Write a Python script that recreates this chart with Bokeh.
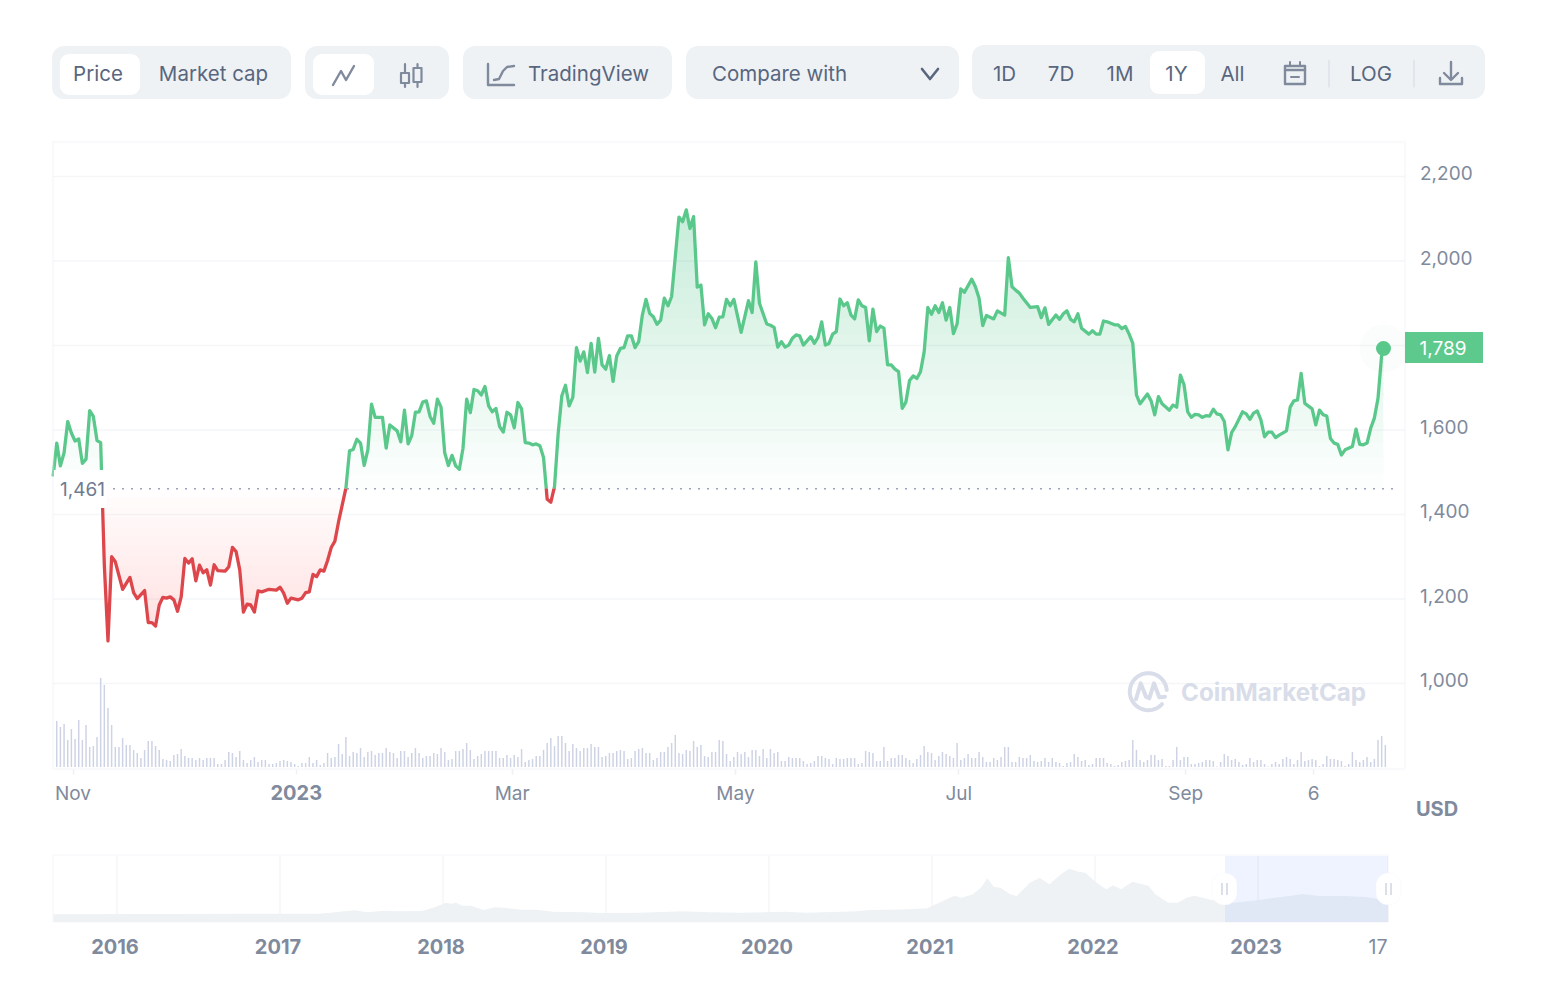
import numpy as np
from bokeh.embed import file_html
from bokeh.models import BoxAnnotation, FixedTicker, Label, LinearAxis, NumeralTickFormatter, Range1d
from bokeh.plotting import figure
from bokeh.resources import INLINE

# ---------- data ----------
price_day = [0,1,2,3,4,5,6,7,8,9,10,11,12,13,14,15,16,17,19,21,22,23,25,26,27,28,29,30,31,32,33,34,35,36,37,38,39,40,41,42,43,44,45,47,48,49,50,51,52,53,54,55,56,57,59,61,62,63,64,65,67,68,69,70,71,72,73,74,75,76,77,78,80,
81,82,83,84,85,86,87,88,90,91,92,94,95,96,97,98,99,100,101,102,103,104,105,106,107,108,109,110,111,112,113,114,115,116,117,118,119,120,121,122,123,124,125,126,127,128,129,130,131,132,133,134,135,136,137,138,139,140,141,142,143,144,145,146,147,148,149,150,151,152,153,154,155,156,157,158,159,160,161,162,163,164,165,166,167,168,169,170,171,172,173,174,175,176,177,178,179,180,181,182,183,184,185,186,188,190,191,192,193,194,195,196,197,198,199,200,201,202,203,204,205,207,208,209,210,211,212,213,214,215,216,217,218,219,220,221,222,223,224,225,226,227,228,229,230,231,232,233,234,235,236,237,238,239,240,241,242,243,244,245,246,247,248,249,251,252,253,254,255,257,258,260,261,262,263,264,265,267,269,270,271,272,274,275,276,277,278,279,280,281,283,284,285,286,287,288,290,291,292,293,294,295,296,297,299,300,301,302,303,305,306,307,308,309,310,311,312,313,314,315,316,317,318,319,320,321,322,323,325,326,327,328,329,330,331,332,333,334,335,337,338,339,340,341,342,344,345,346,347,348,349,350,351,352,353,355,356,357,358,359,360,361,362,363,363.5]
price = [1490,1569,1515,1546,1620,1593,1574,1579,1521,1531,1646,1632,1575,1570,1280,1101,1300,1288,1223,1251,1215,1201,1220,1144,1144,1136,1186,1204,1202,1205,1198,1171,1205,1296,1285,1295,1243,1280,1262,1269,1233,1281,1267,1266,1276,1322,1312,1269,1169,1188,1186,1169,1219,1217,1223,1221,1228,1214,1190,1202,1198,1202,1215,1217,1258,1253,1269,1266,1291,1322,1337,1383,1462,
1551,1554,1578,1569,1516,1553,1661,1630,1630,1557,1612,1598,1572,1647,1567,1587,1642,1643,1666,1669,1632,1616,1673,1654,1546,1516,1540,1515,1507,1557,1673,1641,1696,1693,1683,1703,1657,1643,1651,1608,1595,1642,1636,1605,1665,1650,1570,1569,1565,1567,1563,1535,1436,1429,1466,1592,1681,1706,1657,1677,1795,1763,1785,1736,1805,1737,1817,1754,1744,1776,1715,1775,1793,1795,1823,1823,1795,1809,1872,1909,1876,1868,1850,1860,1912,1894,1916,2010,2104,2093,2121,2077,2105,1938,1943,1849,1875,1864,1842,1867,1868,1909,1894,1909,1831,1906,1878,1998,1900,1875,1851,1848,1843,1796,1809,1796,1801,1817,1825,1823,1801,1821,1805,1819,1856,1801,1805,1827,1833,1910,1894,1901,1872,1863,1908,1894,1890,1811,1886,1833,1846,1841,1754,1754,1744,1738,1651,1666,1717,1728,1722,1738,1785,1890,1874,1894,1878,1901,1860,1890,1828,1851,1934,1926,1957,1939,1912,1847,1871,1863,1882,1872,2008,1939,1931,1924,1912,1890,1892,1866,1889,1850,1872,1862,1875,1882,1862,1856,1875,1841,1827,1835,1827,1827,1858,1856,1849,1849,1840,1845,1827,1805,1683,1662,1685,1669,1636,1679,1662,1647,1659,1654,1730,1707,1643,1630,1637,1636,1630,1634,1633,1649,1638,1636,1620,1553,1594,1608,1643,1638,1625,1640,1645,1624,1584,1595,1595,1582,1588,1598,1654,1669,1671,1734,1663,1650,1612,1647,1636,1633,1580,1569,1566,1541,1553,1561,1602,1566,1565,1569,1604,1628,1675,1778,1793]
volume = [46,40,43,27,38,28,47,27,42,20,21,30,89,82,59,42,20,20,29,22,22,17,14,9,17,26,26,21,17,8,7,6,12,13,18,11,9,9,7,9,7,9,9,9,3,3,7,15,14,10,16,7,4,7,10,5,7,7,3,3,4,6,7,6,5,3,1,4,4,10,4,7,2,4,14,9,10,23,13,30,11,15,14,19,10,15,16,12,14,14,19,15,14,9,16,16,10,14,19,14,9,11,11,14,13,19,15,7,8,16,16,18,24,17,8,11,13,16,16,16,16,9,9,12,9,12,10,18,5,7,
8,11,11,17,24,29,21,31,31,24,16,23,19,16,19,19,23,20,20,10,11,14,14,16,17,16,8,9,16,18,19,14,14,7,9,15,15,20,24,32,14,13,17,16,26,20,22,11,10,15,15,27,26,13,6,10,15,13,15,10,17,17,11,18,9,18,14,15,6,6,10,9,9,9,6,3,4,6,11,11,9,8,3,9,8,8,9,9,9,3,4,16,15,14,6,6,20,6,9,9,12,12,9,7,4,8,12,21,15,14,7,11,15,13,11,9,24,7,9,13,
9,9,15,10,5,5,9,7,10,20,20,5,5,10,9,9,12,6,5,6,9,5,9,5,4,1,4,5,13,10,6,7,2,3,9,9,9,4,3,1,2,5,6,7,27,17,7,5,7,12,12,7,8,1,1,7,20,7,10,10,3,3,4,5,7,7,6,0.5,5,13,11,7,8,5,2,3,9,5,7,7,3,0.5,3,5,3,8,10,8,3,7,15,6,7,8,7,1,3,11,8,8,7,6,1,3,15,7,5,7,10,5,8,27,31,22]
y_ticks = [1000, 1200, 1400, 1600, 2000, 2200]
grid_ticks = [1000, 1200, 1400, 1600, 1800, 2000, 2200]
x_ticks = [0, 120, 181, 242, 304, 339]
x_tick_labels = ["Nov", "Mar", "May", "Jul", "Sep", "6"]
year_tick = 61
base_price = 1461

nav_year = [2015.61,2017.23,2017.31,2017.39,2017.46,2017.53,2017.64,2017.72,2017.87,2017.94,2017.98,2018.02,2018.05,2018.08,2018.12,2018.17,2018.25,2018.32,2018.37,2018.48,2018.57,2018.68,2018.87,2018.98,2019.20,2019.47,2019.64,2019.82,2020.10,2020.23,2020.53,2020.62,2020.86,2020.97,2021.03,2021.11,2021.14,2021.18,2021.25,2021.30,2021.34,2021.38,2021.42,2021.48,2021.52,2021.60,2021.66,2021.72,2021.79,2021.84,2021.90,2021.94,2022.01,2022.07,2022.11,2022.16,2022.23,2022.33,2022.37,2022.45,2022.51,2022.56,2022.61,2022.70,2022.79,2022.86,2023.00,2023.11,2023.27,2023.38,2023.52,2023.66,2023.74,2023.80]
nav_level = [7.7,8.3,9.3,10.7,11.7,9.7,11.3,10.7,11,14.3,16.7,19.3,18.3,19.3,16.3,16.3,12,14.7,14.3,12.3,12.3,10.3,9.7,9,9.3,10.7,9.7,9.3,10.3,9.3,10.7,12,12.7,13.7,18.3,24.3,26.3,24.3,27.7,34.3,43.7,35,34.3,27.7,26,39.3,44.3,37.7,47.7,53.3,50.3,49.3,39.3,32.7,36.7,32.7,40.3,36,27.7,19.3,19.3,24.3,26.3,22.7,19.3,19.3,21.7,24.3,27.7,26,26,25,22.7,22.7]
nav_years = [2016, 2017, 2018, 2019, 2020, 2021, 2022, 2023]

# ---------- style ----------
FONT = "Inter"
GREEN = "#5ac88b"
FILL_GREEN = "#46c878"
RED = "#dd474c"
GREY_TXT = "#808a9d"
DARK_TXT = "#58667e"
PILL = "#eff2f5"
BORDER = "#eef0f4"
GRID = "#f5f6f8"

W, H = 1528, 980
OX, OY = 0.5, 0.5   # page position of the canvas

# scale constants: chart pixels per day / per USD / per navigator year
S = 3.66
FIRST_DAY = -5.44   # first price day, counted from 1 Nov
K = 0.4225
NS = 163.0


def day_at(px):
    return (px - 73) / S


def price_at(py):
    return 1000 + (683.5 - py) / K


def year_at(px):
    return 2016 + (px - 117) / NS


p = figure(width=W, height=H, x_range=Range1d(OX, OX + W), y_range=Range1d(OY + H, OY),
           toolbar_location=None, output_backend="svg", x_axis_type=None, y_axis_type=None,
           min_border=0, tools="", outline_line_color=None)
p.grid.visible = False
p.extra_x_ranges = {
    "days": Range1d(day_at(OX), day_at(OX + W)),
    "navyear": Range1d(year_at(OX), year_at(OX + W)),
    "navlab": Range1d(year_at(OX) + 2 / NS, year_at(OX + W) + 2 / NS),
}
p.extra_y_ranges = {
    "price": Range1d(price_at(OY + H), price_at(OY)),
    "pricelab": Range1d(price_at(OY + H) - 3.5 / K, price_at(OY) - 3.5 / K),
    "vol": Range1d(767 - (OY + H), 767 - OY),
    "navlevel": Range1d(922 - (OY + H), 922 - OY),
}


def txt(x, y, text, size=20, color=DARK_TXT, weight="normal", align="center"):
    p.add_layout(Label(x=x, y=y - 0.5, text=text, text_font=FONT, text_font_size=f"{size}px", text_color=color,
                       text_font_style=weight, text_align=align, text_baseline="middle"))


def box(l, r, t, b, color, radius=0, alpha=1.0, line=None, lw=1):
    p.add_layout(BoxAnnotation(left=l, right=r, top=t, bottom=b, fill_color=color, fill_alpha=alpha,
                               line_color=line, line_width=lw, border_radius=radius))


# ---------- toolbar ----------
for l, r, t, b in [(52, 291, 46, 99), (305, 449, 46, 99), (463, 672, 46, 99), (686, 959, 46, 99), (972, 1485, 45, 99)]:
    box(l, r, t, b, PILL, radius=12)
box(60, 140, 54, 95, "#ffffff", radius=9)
box(313, 374, 54, 95, "#ffffff", radius=9)
box(1150, 1205, 51, 94, "#ffffff", radius=9)
for x, s in [(98, "Price"), (213.5, "Market cap"), (588.5, "TradingView"), (779.5, "Compare with"),
             (1004.5, "1D"), (1061, "7D"), (1120, "1M"), (1176.5, "1Y"), (1232.5, "All"), (1371, "LOG")]:
    txt(x, 74, s, size=20.5)


def icon(xs, ys, w=2.4, color=GREY_TXT):
    p.line(xs, ys, line_width=w, line_color=color, level="overlay", line_cap="round", line_join="round")


icon([333, 341, 346, 354], [85, 71, 80, 66])
for cx, top, bot in [(405, 73, 83), (417.5, 68, 82)]:
    icon([cx, cx], [64, top], 2.2)
    icon([cx, cx], [bot, 87], 2.2)
    icon([cx - 4, cx + 4, cx + 4, cx - 4, cx - 4], [top, top, bot, bot, top], 2.2)
icon([488, 488, 514], [64, 85, 85])
icon([494, 499, 503, 507, 514], [80, 79, 71, 67, 66])
icon([922, 930, 938], [69, 79, 69], 2.6, DARK_TXT)
icon([1285, 1305, 1305, 1285, 1285], [66, 66, 84, 84, 66])
icon([1285, 1305], [70, 70])
icon([1290, 1290], [62, 66], 2)
icon([1300, 1300], [62, 66], 2)
icon([1291, 1299], [77, 77], 2)
icon([1451, 1451], [62, 79])
icon([1444, 1451, 1458], [73, 80, 73])
icon([1440, 1440, 1462, 1462], [78, 84, 84, 78])
icon([1329, 1329], [60, 87], 1.2, "#d8dce6")
icon([1414, 1414], [60, 87], 1.2, "#d8dce6")

# ---------- main chart ----------
MAIN_L, MAIN_R, MAIN_T, MAIN_B = 53, 1405, 142, 769
PRICE = dict(y_range_name="price")
DAYS = dict(x_range_name="days")

p.segment(x0=[MAIN_L] * len(grid_ticks), x1=[MAIN_R] * len(grid_ticks), y0=grid_ticks, y1=grid_ticks,
          line_color=GRID, line_width=1.5, **PRICE)

yaxis = LinearAxis(y_range_name="pricelab", fixed_location=MAIN_R, ticker=FixedTicker(ticks=y_ticks),
                   axis_line_color=None, major_tick_line_color=None, minor_tick_line_color=None,
                   major_tick_out=0, major_tick_in=0, major_label_standoff=15, major_label_text_font=FONT,
                   major_label_text_font_size="19px", major_label_text_color=GREY_TXT,
                   formatter=NumeralTickFormatter(format="0,0"))
p.add_layout(yaxis, "right")
xaxis = LinearAxis(x_range_name="days", fixed_location=MAIN_B, ticker=FixedTicker(ticks=x_ticks),
                   major_label_overrides=dict(zip(x_ticks, x_tick_labels)), axis_line_color=None,
                   major_tick_line_color=BORDER, major_tick_line_width=1.5, minor_tick_line_color=None,
                   major_tick_out=5, major_tick_in=0, major_label_standoff=8, major_label_text_font=FONT,
                   major_label_text_font_size="19px", major_label_text_color=GREY_TXT)
p.add_layout(xaxis, "below")
# the bold year tick on the same time scale
xaxis2 = LinearAxis(x_range_name="days", fixed_location=MAIN_B, ticker=FixedTicker(ticks=[year_tick]),
                    major_label_overrides={year_tick: "2023"}, axis_line_color=None,
                    major_tick_line_color=BORDER, major_tick_line_width=1.5, minor_tick_line_color=None,
                    major_tick_out=5, major_tick_in=0, major_label_standoff=11, major_label_text_font=FONT,
                    major_label_text_font_size="20px", major_label_text_font_style="bold",
                    major_label_text_color=GREY_TXT)
p.add_layout(xaxis2, "below")

days = np.array(price_day, dtype=float) + FIRST_DAY
vals = np.array(price, dtype=float)

# area under the line, built up in layers so that it deepens away from the base price
fill_x = np.linspace(days[0], days[-1], 4000)
fill_y = np.interp(fill_x, days, vals)
for lvl in np.linspace(base_price, 2120, 19)[:-1]:
    p.varea(fill_x, y1=np.full_like(fill_x, lvl), y2=np.maximum(fill_y, lvl), fill_color=FILL_GREEN, fill_alpha=0.016,
            **DAYS, **PRICE)
for lvl in np.linspace(base_price, 1120, 16)[:-1]:
    p.varea(fill_x, y1=np.full_like(fill_x, lvl), y2=np.minimum(fill_y, lvl), fill_color=RED, fill_alpha=0.01,
            **DAYS, **PRICE)

# volume bars
vol_days = np.arange(len(volume)) + 1 + FIRST_DAY
p.vbar(x=vol_days, top=volume, bottom=0, width=0.4, y_range_name="vol", x_range_name="days",
       fill_color="#cdd2e4", line_color=None)

# dotted base price line
p.line([113, 1400], [base_price, base_price], line_color="#9aa3ba", line_width=1.5, line_dash="2 7", **PRICE)

# price line split at the base price
lx, ly = [days[0]], [vals[0]]
for i in range(1, len(days)):
    a, b = vals[i - 1], vals[i]
    if (a - base_price) * (b - base_price) < 0:
        lx.append(days[i - 1] + (days[i] - days[i - 1]) * (base_price - a) / (b - a))
        ly.append(base_price)
    lx.append(days[i])
    ly.append(b)
lx, ly = np.array(lx), np.array(ly)
p.line(lx, np.where(ly >= base_price, ly, np.nan), line_color=GREEN, line_width=3.3, line_join="round", **DAYS, **PRICE)
p.line(lx, np.where(ly <= base_price, ly, np.nan), line_color=RED, line_width=3.3, line_join="round", **DAYS, **PRICE)

p.scatter([days[-1]], [vals[-1]], size=48, fill_color=GREEN, fill_alpha=0.03, line_color=None, **DAYS, **PRICE)
p.scatter([days[-1]], [vals[-1]], size=15, fill_color=GREEN, line_color=None, **DAYS, **PRICE)

box(MAIN_L, MAIN_R, MAIN_T, MAIN_B, "#ffffff", alpha=0, line=BORDER, lw=2.5)
box(54, 107, 470, 508, "#ffffff")
txt(60, 489, "1,461", size=19, color="#6f7b92", align="left")
box(1405, 1483, 332, 363, "#5ec98d")
txt(1443, 348, "1,789", size=19, color="#ffffff")
txt(1437, 809, "USD", size=20, color=GREY_TXT, weight="bold")

# watermark
theta = np.radians(np.linspace(42, 355, 60))
p.line(1148.3 + 18.5 * np.cos(theta), 691.7 + 18.5 * np.sin(theta), line_color="#d8dde9", line_width=4, line_cap="round")
p.line([1136, 1140.7, 1146, 1149.3, 1154, 1159.3, 1165], [699.3, 683.3, 696.7, 698.3, 683.3, 697.3, 696.7],
       line_color="#d8dde9", line_width=4, line_join="round", line_cap="round")
txt(1181, 693, "CoinMarketCap", size=24.2, color="#d8dde9", weight="bold", align="left")

# ---------- navigator ----------
NAV = dict(x_range_name="navyear", y_range_name="navlevel")
p.segment(x0=nav_years, x1=nav_years, y0=[0] * len(nav_years), y1=[66] * len(nav_years),
          line_color=GRID, line_width=1.5, **NAV)
p.varea(nav_year, y1=[0] * len(nav_year), y2=nav_level, fill_color="#eff2f5", **NAV)
naxis = LinearAxis(x_range_name="navlab", fixed_location=922, ticker=FixedTicker(ticks=nav_years),
                   axis_line_color=None, major_tick_line_color=None, minor_tick_line_color=None,
                   major_tick_out=0, major_tick_in=0, major_label_standoff=17, major_label_text_font=FONT,
                   major_label_text_font_size="20px", major_label_text_font_style="bold",
                   major_label_text_color=GREY_TXT, formatter=NumeralTickFormatter(format="0"))
p.add_layout(naxis, "below")
box(53, 1388, 855, 922, "#ffffff", alpha=0, line=BORDER, lw=2)
box(1225, 1388, 856, 922, "#3861fb", alpha=0.08)
for cx in (1224.5, 1388.5):
    box(cx - 12.5, cx + 12.5, 873, 905, "#ffffff", radius=12, line="#f0f2f6")
    box(cx - 3, cx - 2, 883, 895, "#b8bfd0")
    box(cx + 2, cx + 3, 883, 895, "#b8bfd0")
txt(1378, 947, "17", size=19.5, color=GREY_TXT)

open("out.html", "w").write(file_html(p, INLINE))
